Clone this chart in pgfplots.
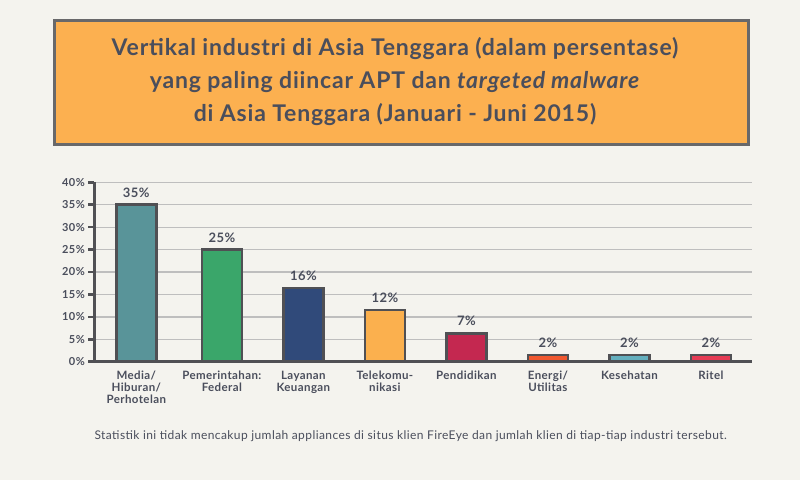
\documentclass[border=0pt]{standalone}
\usepackage{pgfplots}
\pgfplotsset{compat=1.18}
\usepackage{fontspec}
\setmainfont{Lato}[LetterSpace=3.5]
\definecolor{bgcol}{RGB}{244,243,238}
\definecolor{boxorange}{RGB}{252,176,80}
\definecolor{boxborder}{RGB}{104,104,106}
\definecolor{txt}{RGB}{74,78,92}
\definecolor{axgray}{RGB}{80,80,84}
\definecolor{gridgray}{RGB}{190,190,190}
\definecolor{c1}{RGB}{89,148,153}
\definecolor{c2}{RGB}{58,166,106}
\definecolor{c3}{RGB}{48,74,122}
\definecolor{c4}{RGB}{251,176,78}
\definecolor{c5}{RGB}{196,40,80}
\definecolor{c6}{RGB}{240,88,48}
\definecolor{c7}{RGB}{100,175,190}
\definecolor{c8}{RGB}{230,60,85}
\begin{document}
\begin{tikzpicture}[x=1pt,y=1pt]
\useasboundingbox (0,0) rectangle (800,480);
\fill[bgcol] (0,0) rectangle (800,480);
\filldraw[fill=boxorange, draw=boxborder, line width=3pt] (54,480-144.3) rectangle (748,480-20.3);
\begin{scope}[every node/.style={anchor=base, text=txt, inner sep=0pt, font=\fontsize{23}{26}\selectfont\bfseries}]
\node at (395,424) {Vertikal industri di Asia Tenggara (dalam persentase)};
\node at (395,391) {yang paling diincar APT dan \textit{targeted malware}};
\node at (395,358.3) {di Asia Tenggara (Januari - Juni 2015)};
\end{scope}
\node[anchor=base, text=txt, inner sep=0pt, font=\fontsize{12}{14}\selectfont] at (410.7,41) {Statistik ini tidak mencakup jumlah appliances di situs klien FireEye dan jumlah klien di tiap-tiap industri tersebut.};
\begin{axis}[
  at={(94.3pt,118.3pt)}, anchor=south west,
  scale only axis, width=657.4pt, height=179.4pt,
  xmin=-0.065, xmax=8, ymin=0, ymax=40,
  axis x line=bottom, axis y line=left,
  axis line style={-, line width=2.5pt, color=axgray},
  tick align=outside, major tick length=6pt,
  tick style={line width=2.5pt, color=axgray},
  ytick={0,5,...,40},
  yticklabel={\pgfmathprintnumber{\tick}\%},
  ymajorgrids, grid style={line width=1.3pt, color=gridgray},
  /pgf/number format/assume math mode=true,
  yticklabel style={font=\fontsize{11}{13}\selectfont\bfseries, text=txt},
  xtick={0.45,1.5,2.5,3.5,4.5,5.5,6.5,7.5},
  xticklabels={{Media/\\Hiburan/\\Perhotelan},{Pemerintahan:\\Federal},{Layanan\\Keuangan},{Telekomu-\\nikasi},{Pendidikan},{Energi/\\Utilitas},{Kesehatan},{Ritel}},
  x tick style={draw=none},
  xticklabel style={font=\fontsize{11.5}{11.7}\selectfont\bfseries, text=txt, align=center, anchor=north, yshift=0pt},
  extra x ticks={-0.065,1,2,3,4,5,6,7,8},
  extra x tick labels={},
  extra x tick style={tick style={draw=axgray, line width=2.5pt}, grid=none},
  ybar, bar width=40pt, bar shift=0pt,
  point meta=explicit symbolic,
  nodes near coords,
  every node near coord/.append style={anchor=base, yshift=7.5pt, inner sep=0pt, font=\fontsize{13}{15}\selectfont\bfseries, text=txt},
  clip=false,
]
\addplot[fill=c1, draw=axgray, line width=2.5pt] coordinates {(0.45,35) [35\%]};
\addplot[fill=c2, draw=axgray, line width=2.5pt] coordinates {(1.5,25) [25\%]};
\addplot[fill=c3, draw=axgray, line width=2.5pt] coordinates {(2.5,16.4) [16\%]};
\addplot[fill=c4, draw=axgray, line width=2.5pt] coordinates {(3.5,11.5) [12\%]};
\addplot[fill=c5, draw=axgray, line width=2.5pt] coordinates {(4.5,6.3) [7\%]};
\addplot[fill=c6, draw=axgray, line width=2.5pt] coordinates {(5.5,1.5) [2\%]};
\addplot[fill=c7, draw=axgray, line width=2.5pt] coordinates {(6.5,1.5) [2\%]};
\addplot[fill=c8, draw=axgray, line width=2.5pt] coordinates {(7.5,1.5) [2\%]};
\end{axis}
\end{tikzpicture}
\end{document}
